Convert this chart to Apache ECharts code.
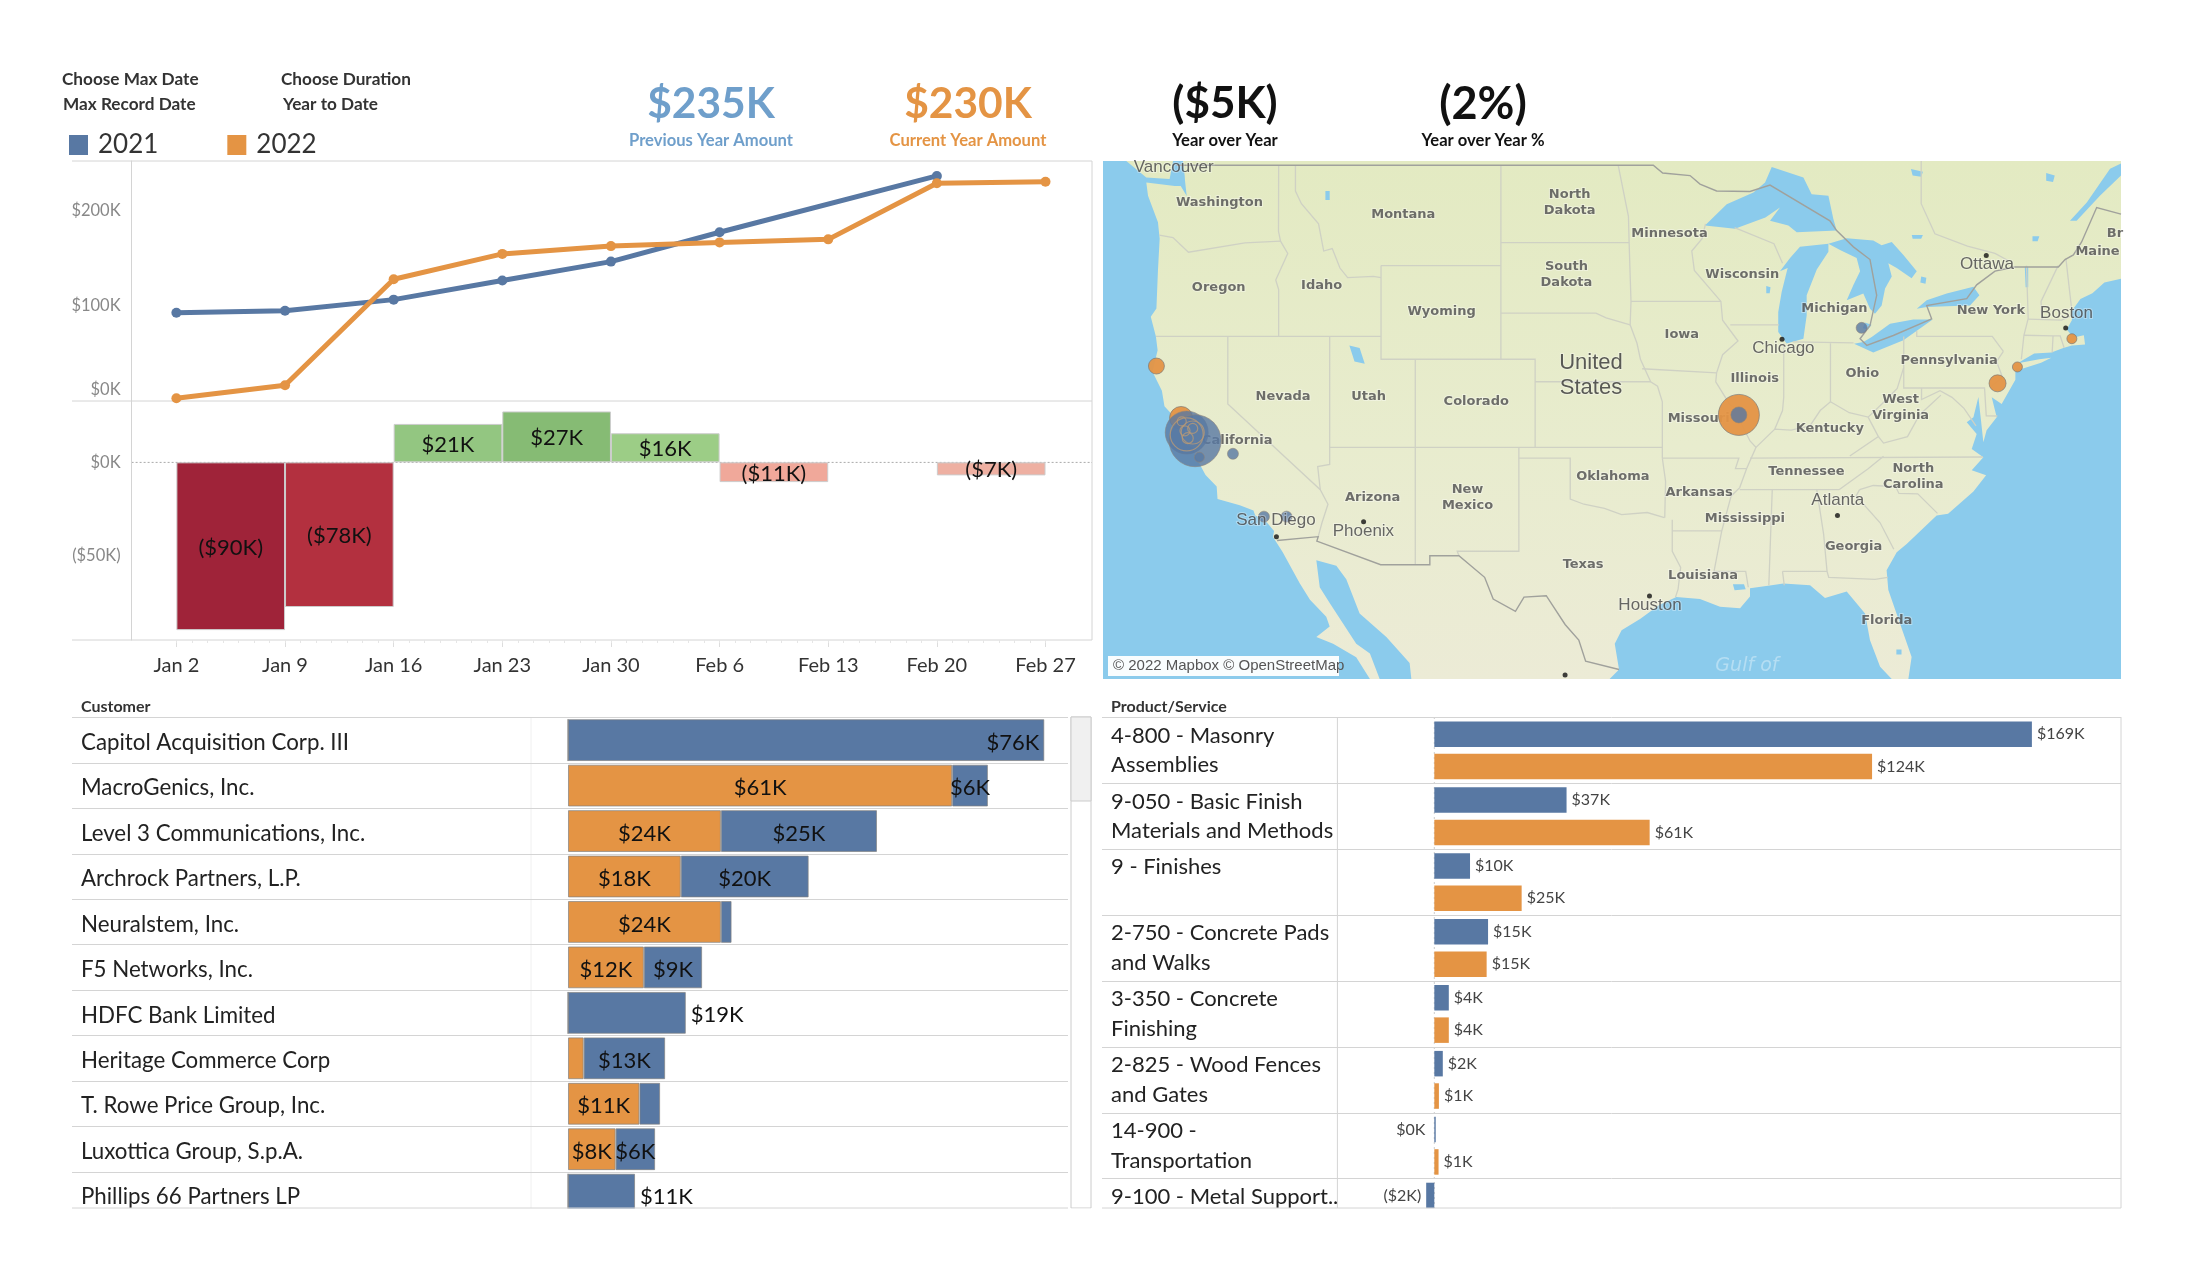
<!DOCTYPE html>
<html>
<head>
<meta charset="utf-8">
<style>html,body{margin:0;padding:0;background:#fff}#c{width:2200px;height:1286px}</style>
<script src="https://cdn.jsdelivr.net/npm/echarts@6/dist/echarts.min.js"></script>
</head>
<body>
<div id="c"></div>
<script>
// weekly running totals ($K)
const weeks = ['Jan 2','Jan 9','Jan 16','Jan 23','Jan 30','Feb 6','Feb 13','Feb 20','Feb 27'];
const running2021 = [92.9,95,106.6,126.8,146.6,177.5,null,236.7,null];
const running2022 = [2.8,16.5,128,154.7,162.9,166.8,170,229,230.6];

// year over year difference per week span ($K)
const diffSpans = ['Jan 2','Jan 9','Jan 16','Jan 23','Jan 30','Feb 6','Feb 13','Feb 20'];
const diffValues = [-90,-77.6,20.6,27.3,15.6,-10.6,null,-7];

// customers ($K)
const customers = ['Capitol Acquisition Corp. III','MacroGenics, Inc.','Level 3 Communications, Inc.','Archrock Partners, L.P.','Neuralstem, Inc.','F5 Networks, Inc.','HDFC Bank Limited','Heritage Commerce Corp','T. Rowe Price Group, Inc.','Luxottica Group, S.p.A.','Phillips 66 Partners LP'];
const customer2022 = [0,61.3,24.4,18,24.4,12.1,0,2.5,11.4,7.6,0];
const customer2021 = [76,5.7,24.9,20.4,1.7,9.3,18.8,13,3.3,6.3,10.7];

// products ($K)
const products = ['4-800 - Masonry\nAssemblies','9-050 - Basic Finish\nMaterials and Methods','9 - Finishes\n ','2-750 - Concrete Pads\nand Walks','3-350 - Concrete\nFinishing','2-825 - Wood Fences\nand Gates','14-900 -\nTransportation','9-100 - Metal Support..\n '];
const product2021 = [169,37.4,10.1,15.2,4.1,2.4,0.4,-2.3];
const product2022 = [123.8,60.9,24.7,14.8,4.1,1.3,1.2,null];

// map bubbles [lon, lat, diameter]
const bubbles2022 = [[-124.17,40.7,16],[-122.73,38.36,23],[-90.15,38.5,41],[-75.04,39.93,17],[-73.88,40.66,10],[-70.7,41.9,10]];
const bubbles2021 = [[-122.4,37.69,43],[-121.91,37.31,52],[-119.7,36.7,11],[-121.66,36.54,10],[-90.15,38.5,16],[-82.98,42.37,11],[-117.89,33.7,11],[-116.57,33.7,11]];
const bubbles2022Cluster = [[-122.4,37.6,33],[-122.05,37.69,23],[-122.69,38.2,9],[-122.5,37.77,10],[-122.05,37.88,10],[-122.34,37.43,11]];

const cityDots = [[-87.63,41.88],[-84.39,33.75],[-112.07,33.45],[-117.16,32.72],[-95.37,29.76],[-71.06,42.36],[-75.7,45.42],[-100.3,25.67]];
const stateLabels = [['Washington',-120.49,47.54],['Montana',-109.75,47.06],['North\nDakota',-100.03,47.54],['Minnesota',-94.2,46.32],['Wisconsin',-89.95,44.61],['Oregon',-120.53,44.08],['Idaho',-114.52,44.17],['South\nDakota',-100.22,44.61],['Wyoming',-107.51,43.07],['Michigan',-84.57,43.18],['New York',-75.43,43.09],['Maine',-69.2,45.59],['Iowa',-93.48,42.06],['Illinois',-89.22,40.12],['Pennsylvania',-77.87,40.94],['Ohio',-82.94,40.36],['Nevada',-116.77,39.35],['Utah',-111.77,39.35],['Colorado',-105.49,39.09],['West\nVirginia',-80.7,38.82],['Missouri',-92.5,38.33],['Kentucky',-84.84,37.88],['California',-119.45,37.32],['Tennessee',-86.2,35.84],['North\nCarolina',-79.96,35.62],['Oklahoma',-97.51,35.6],['Arkansas',-92.47,34.87],['Arizona',-111.54,34.61],['New\nMexico',-106,34.61],['Mississippi',-89.8,33.6],['Georgia',-83.45,32.24],['Texas',-99.25,31.33],['Louisiana',-92.24,30.8],['Florida',-81.51,28.5],['Br',-68.18,46.32]];
const cityLabels = [['Vancouver',-123.16,48.9],['Ottawa',-75.66,45.07],['Boston',-71.01,43.01],['Chicago',-87.55,41.46],['Atlanta',-84.37,34.51],['San Diego',-117.19,33.5],['Phoenix',-112.08,33],['Houston',-95.34,29.28]];

// map geometry (lon, lat)
const mapBox = [[-127.29,49.16],[-67.83,25.46]];
const mainland = [[-122.62,49.16],[-67.83,49.16],[-67.83,44.45],[-68.8,44.3],[-69.5,43.85],[-70.2,43.6],[-70.7,43.1],[-70.7,42.7],[-71,42.3],[-70.6,41.95],[-70,42.05],[-69.93,41.65],[-70.7,41.6],[-71.2,41.5],[-71.9,41.3],[-72.9,41.25],[-73.7,40.9],[-74,40.6],[-74,40.09],[-74.8,39],[-75.38,39.3],[-75.09,38.39],[-75.68,37.8],[-75.87,37.24],[-76,38.2],[-76.16,39.32],[-76.45,38.39],[-76.84,38.16],[-76.26,37.62],[-76.55,36.93],[-75.87,36.54],[-76.55,35.93],[-75.71,35.69],[-76.45,34.91],[-77.93,33.84],[-78.6,33.76],[-80.35,32.36],[-80.93,31.95],[-81.52,31.05],[-81.42,30.06],[-80.74,28.35],[-80.06,26.62],[-80.25,25.46],[-81.22,25.46],[-81.9,26.1],[-82.49,27.49],[-82.78,28.87],[-83.85,29.99],[-85.12,29.65],[-85.99,30.3],[-87.55,30.39],[-88.14,30.31],[-89.5,30.15],[-89.5,29.73],[-90.08,29.13],[-91.25,29.21],[-92.42,29.6],[-93.8,29.7],[-94.8,29.3],[-95.9,28.6],[-97,28],[-97.4,27.3],[-97.15,25.96],[-97.7,25.46],[-109.28,25.46],[-109.38,26.3],[-110.74,27.66],[-112.3,28.87],[-113.08,30.6],[-113.66,31.28],[-114.83,31.55],[-114.63,30.2],[-114.05,29.4],[-113.27,28.35],[-112.5,27.3],[-111.7,26.8],[-111.13,25.46],[-111.7,25.46],[-112.5,26.6],[-113.85,27.3],[-114.83,27.66],[-114.05,28.2],[-114.25,28.7],[-115.2,29.56],[-115.8,30.4],[-116.8,31.96],[-117.36,32.7],[-117.3,33],[-117.8,33.5],[-118.4,33.75],[-118.5,34],[-119.3,34.25],[-120.6,34.55],[-120.65,35.15],[-121.3,35.7],[-121.9,36.6],[-122,36.95],[-122.5,37.2],[-122.5,37.8],[-123,38.3],[-123.7,38.9],[-123.85,39.6],[-124.4,40.45],[-124.1,41.4],[-124.2,42],[-124.5,42.85],[-124.17,43.2],[-124.08,44.8],[-123.98,46.1],[-124.08,46.76],[-124.66,47.81],[-124.76,48.33],[-123.1,48.2],[-122.75,48.2],[-122.4,47.8],[-122.5,48.4],[-122.52,48.6],[-122.62,49.16]];
const islands = [
  [[-125.93,49.16],[-124.76,48.53],[-123.4,48.47],[-123.2,49.16],[-125.93,49.16]],
  [[-74,40.6],[-73.6,40.58],[-72.5,40.85],[-71.9,41.07],[-72.6,41],[-73.7,40.85],[-74,40.6]]
];
const lakes = [
  [[-92.13,46.63],[-90.86,47.48],[-89.3,47.94],[-88.62,48.33],[-88.23,48.93],[-86.38,48.53],[-85.9,47.87],[-84.92,47.81],[-84.63,46.89],[-84.44,46.43],[-86.77,46.36],[-87.26,46.63],[-88.33,46.82],[-87.75,47.35],[-88.6,46.95],[-90.38,46.5],[-92.13,46.63]],
  [[-87.36,41.69],[-86.38,41.9],[-86.19,42.9],[-86.19,43.76],[-85.6,44.84],[-84.92,45.57],[-84.92,45.9],[-86.58,45.77],[-87.16,45.31],[-87.75,44.77],[-87.3,44.9],[-87.65,43.9],[-87.85,43.05],[-87.85,42.19],[-87.36,41.69]],
  [[-84.92,45.9],[-83.85,46.12],[-82.3,46.03],[-81.81,45.84],[-81.22,45.97],[-80.54,45.44],[-79.76,44.77],[-80.06,44.48],[-80.93,44.9],[-81.42,45.1],[-81.22,44.55],[-81.61,44.05],[-81.81,43.33],[-82.2,42.98],[-82.49,43.19],[-82.88,43.84],[-83.85,43.55],[-83.46,44.19],[-83.07,44.77],[-83.27,45.31],[-84.24,45.64],[-84.92,45.9]],
  [[-83.42,41.68],[-82.3,41.3],[-80.54,41.83],[-78.83,42.73],[-79.96,42.73],[-81.32,42.55],[-82.39,41.97],[-82.88,41.76],[-83.42,41.68]],
  [[-79.76,43.19],[-79.18,43.55],[-78.01,43.84],[-76.45,44.12],[-76.1,43.76],[-76.65,43.33],[-78.01,43.3],[-79.18,43.26],[-79.76,43.19]],
  [[-70.81,46.82],[-69.83,47.55],[-68.47,48.86],[-67.83,49.06],[-67.83,48.6],[-69.06,47.81],[-70.42,46.82],[-70.81,46.82]],
  [[-112.9,41.6],[-112.3,41.5],[-112,40.8],[-112.6,40.9],[-112.9,41.6]],
  [[-80.95,27],[-80.65,27],[-80.65,26.75],[-80.95,26.75],[-80.95,27]],
  [[-90.5,30.35],[-89.85,30.35],[-89.75,30.1],[-90.4,30.05],[-90.5,30.35]],
  [[-82.8,42.6],[-82.4,42.5],[-82.6,42.3],[-82.9,42.35],[-82.8,42.6]],
  [[-80.1,48.85],[-79.4,48.75],[-79.5,48.55],[-80,48.6],[-80.1,48.85]],
  [[-80.05,46.25],[-79.4,46.25],[-79.5,46.1],[-80,46.1],[-80.05,46.25]],
  [[-72.2,48.7],[-71.7,48.6],[-71.8,48.35],[-72.2,48.4],[-72.2,48.7]],
  [[-79.5,44.55],[-79.2,44.5],[-79.25,44.25],[-79.55,44.3],[-79.5,44.55]],
  [[-88.55,44.15],[-88.3,44.1],[-88.35,43.85],[-88.55,43.85],[-88.55,44.15]],
  [[-73,46.2],[-72.6,46.2],[-72.7,46],[-73,46],[-73,46.2]],
  [[-73.45,44.95],[-73.25,44.95],[-73.25,44.1],[-73.4,44.1],[-73.45,44.95]],
  [[-114.3,48],[-114.05,48],[-114.05,47.65],[-114.3,47.65],[-114.3,48]]
];
const nationalBorders = [
  [[-123,49],[-95.15,49],[-94.6,48.7],[-93,48.6],[-92.42,48.27],[-91.45,48],[-89.5,47.98],[-88.33,48.23],[-84.83,46.82],[-84.44,46.43],[-83.46,45.77],[-82.49,45.25],[-82.1,43.76],[-82.49,42.47],[-83.07,41.9],[-82.68,41.61],[-81.13,42.04],[-78.89,42.76],[-79.18,43.33],[-76.84,43.62],[-76.26,44.2],[-75.19,44.77],[-74.02,44.94],[-71.49,44.94],[-71.1,45.25],[-70.61,45.44],[-70.13,45.97],[-69.25,47.35],[-67.83,47.09]],
  [[-117.12,32.53],[-114.72,32.72],[-114.8,32.5],[-111.07,31.33],[-108.2,31.33],[-108.2,31.78],[-106.5,31.78],[-105,30.7],[-104.5,29.6],[-103.2,28.98],[-102.7,29.7],[-101.4,29.77],[-100.3,28.3],[-99.5,27.5],[-99.1,26.4],[-97.15,25.96]]
];
const stateBorders = [
  [[-124,46.25],[-123.2,46.15],[-122.3,45.55],[-119,45.93],[-116.92,46]],[[-117.03,49],[-117.04,46.4],[-116.92,46],[-116.5,45.5],[-117.2,44.4],[-117.03,44],[-117.03,42]],[[-124.2,42],[-111.05,42]],[[-120,42],[-120,39],[-114.6,35],[-114.15,34.3],[-114.5,33.4],[-114.72,32.72]],[[-114.05,42],[-114.05,36.2],[-114.75,36.1],[-114.6,35]],[[-116.05,49],[-116.05,48],[-115.7,47.5],[-114.7,46.7],[-114.4,45.6],[-113.9,45.7],[-113.45,44.9],[-113,44.5],[-111.5,44.55],[-111.05,44.5]],[[-111.05,45],[-104.05,45]],[[-111.05,45],[-111.05,41],[-102.05,41],[-102.05,37]],[[-109.05,41],[-109.05,31.33]],[[-114.05,37],[-94.62,37]],[[-103,37],[-103,32],[-106.6,32],[-106.5,31.78]],[[-103,36.5],[-100,36.5],[-100,34.55],[-99.2,34.3],[-98,34.1],[-97,33.8],[-95.5,33.9],[-94.5,33.65]],[[-94.62,36.5],[-94.43,35.4],[-94.48,33.65]],[[-94.04,33.55],[-94.04,32],[-93.55,31.2],[-93.7,30.1],[-93.85,29.7]],[[-94.04,33],[-91.15,33]],[[-104.05,49],[-104.05,41]],[[-104.05,45.94],[-96.56,45.94]],[[-104.05,43],[-98.5,43],[-97.9,42.8],[-96.5,42.5]],[[-102.05,40],[-95.3,40]],[[-97.2,49],[-96.6,47],[-96.56,45.94],[-96.45,43.5],[-96.5,42.5],[-96.1,41.7],[-95.9,41],[-95.3,40],[-94.9,39.8],[-94.62,39.1],[-94.62,36.5]],[[-96.45,43.5],[-91.2,43.5]],[[-95.8,40.58],[-91.45,40.4]],[[-92.1,46.7],[-92.3,46.1],[-92.9,45.6],[-92.75,44.8],[-91.2,43.5],[-91.1,42.7],[-90.2,41.8],[-91.1,41.2],[-91.45,40.4],[-91.5,40],[-90.7,39],[-90.2,38.7],[-90.2,38.4],[-89.5,37.3],[-89.15,37],[-89.7,36],[-90.1,35.1],[-90.6,34.7],[-91.15,33],[-91.6,31],[-89.75,31],[-89.6,30.2]],[[-90.65,42.5],[-87.8,42.5]],[[-90.4,46.55],[-88.1,45.9],[-87.6,45.1]],[[-87.53,41.7],[-87.53,39.3],[-87.6,38.7],[-88.05,37.85]],[[-89.15,37],[-88.05,37.85],[-87.1,37.8],[-86,38],[-85.4,38.7],[-84.8,39.1],[-83.7,38.6],[-82.6,38.4],[-81.8,39],[-80.9,39.7],[-80.52,40.64]],[[-84.8,39.1],[-84.8,41.7]],[[-87,41.76],[-83.45,41.72]],[[-80.52,40.64],[-80.52,42]],[[-79.76,42.25],[-79.76,42],[-75.35,42],[-74.7,41.35]],[[-74.7,41.35],[-75.1,40.9],[-74.75,40.2],[-75.4,39.8]],[[-80.52,40.64],[-80.52,39.72],[-75.8,39.72],[-75.7,38.46],[-75.05,38.45]],[[-79.48,39.72],[-79.48,39.2],[-78.4,39.6],[-77.7,39.3],[-77,38.8],[-76.3,38]],[[-78.35,39.4],[-79.6,38.5],[-80.3,37.5],[-81.7,37.2],[-82,37.5]],[[-82.6,38.4],[-82,37.5],[-83.67,36.6]],[[-89.5,36.5],[-75.9,36.55]],[[-90.1,35],[-84.3,35]],[[-81.7,36.59],[-82.6,36],[-84.3,35]],[[-83.1,35],[-82.3,35.2],[-81,35.15],[-80.8,34.82],[-79.7,34.8],[-78.55,33.86]],[[-83.1,35],[-83.3,34.7],[-81.9,33.4],[-81.1,32.1]],[[-85.6,35],[-85.2,32.85],[-85,31]],[[-87.6,31],[-85,31],[-84.9,30.7],[-82.2,30.6],[-81.45,30.7]],[[-87.6,31],[-87.5,30.3]],[[-88.2,35],[-88.4,30.3]],[[-94.6,36.5],[-90.15,36.5],[-90.35,36],[-89.7,36]],[[-73.35,45],[-73.25,42.75]],[[-73.26,42.75],[-73.5,42.05],[-73.65,41]],[[-73.5,42.05],[-71.8,42.02],[-71.38,42.02],[-71.15,41.5]],[[-73.26,42.75],[-71.3,42.7],[-70.8,42.87]],[[-71.8,42.02],[-71.85,41.3]],[[-71.5,45],[-72.5,43.5],[-72.45,42.73]],[[-71.05,45.3],[-70.7,43.1]],[[-79.5,49.16],[-79.5,47.5],[-78.7,46.3],[-76.8,45.8],[-75.19,45.5],[-74.4,45.2]]
];

const kpiValues = ['$235K','$230K','($5K)','(2%)'];
const kpiLabels = ['Previous Year Amount','Current Year Amount','Year over Year','Year over Year %'];
const headerTexts = ['Choose Max Date','Max Record Date','Choose Duration','Year to Date'];

// ---- styling and layout ----
const BLUE = '#5878a3', ORANGE = '#e49444';
const FONT = 'Lato';
const diffColors = ['#9f2339','#b3303f','#93c681','#86bb74','#9ccd86','#f0a89a','#eee','#eeb0a2'];
const kpiStyle = [{c:'#6f9fcb',x:711,s:42.5},{c:'#e49444',x:968,s:42.5},{c:'#111',x:1225,s:44},{c:'#111',x:1483,s:45}];
const headerPos = [[62,79],[63,104],[281,79],[283,104]];

const mercDeg = lat => Math.log(Math.tan(Math.PI/4 + lat*Math.PI/360))*180/Math.PI;
const invMerc = m => (2*Math.atan(Math.exp(m*Math.PI/180)) - Math.PI/2)*180/Math.PI;
const fmtK = v => v < 0 ? '($' + Math.round(-v) + 'K)' : '$' + Math.round(v) + 'K';
const box = mapBox;
echarts.registerMap('usa', {type:'FeatureCollection', features:[
  {type:'Feature', properties:{name:'water'}, geometry:{type:'Polygon', coordinates:[[[box[0][0],box[0][1]],[box[1][0],box[0][1]],[box[1][0],box[1][1]],[box[0][0],box[1][1]],[box[0][0],box[0][1]]]]}},
  {type:'Feature', properties:{name:'land'}, geometry:{type:'MultiPolygon', coordinates:[[mainland]].concat(islands.map(p=>[p]))}},
  {type:'Feature', properties:{name:'lakes'}, geometry:{type:'MultiPolygon', coordinates:lakes.map(p=>[p])}}
]});

const line = (x1,y1,x2,y2,color,extra) => ({type:'line', shape:{x1,y1,x2,y2}, silent:true, style:Object.assign({stroke:color||'#d4d4d4', lineWidth:1}, extra||{})});
const text = (t,x,y,size,color,weight,align,family) => ({type:'text', x, y, silent:true, style:{text:t, fontSize:size, fill:color, fontWeight:weight||'normal', fontFamily:family||FONT, textAlign:align||'left', textVerticalAlign:'middle'}});

const graphicEls = [];
headerTexts.forEach((t,i) => graphicEls.push(text(t,headerPos[i][0],headerPos[i][1],17.2,'#333','bold')));
kpiValues.forEach((v,i) => {
  const k = kpiStyle[i];
  graphicEls.push(text(v,k.x,104,k.s,k.c,'bold','center'));
  graphicEls.push(text(kpiLabels[i],k.x,141,16.6,k.c,'bold','center'));
});
[161,401,640].forEach(y => graphicEls.push(line(72,y,1092,y)));
graphicEls.push(line(1092,161,1092,640));
graphicEls.push(line(131.6,462.4,1092,462.4,'#aaa',{lineDash:[2,2]}));
graphicEls.push(line(531,717,531,1208,'#f0f0f0'));
graphicEls.push({type:'rect', shape:{x:1071,y:717,width:20,height:491}, silent:true, style:{fill:'#fff',stroke:'#ccc'}, z:5});
graphicEls.push({type:'rect', shape:{x:1071,y:717,width:20,height:84}, silent:true, style:{fill:'#f0f0f0',stroke:'#ccc'}, z:6});
graphicEls.push(line(1337.4,717,1337.4,1208,'#d4d4d4'));
graphicEls.push(line(2121,717,2121,1208,'#d4d4d4'));
graphicEls.push(line(1434.3,717,1434.3,1208,'#ccc',{lineDash:[2,3]}));
graphicEls.push({type:'rect', shape:{x:60,y:1208.5,width:2080,height:60}, silent:true, style:{fill:'#fff'}, z:100, zlevel:1});
graphicEls.push(Object.assign(line(72,1208,1068,1208),{z:101, zlevel:1}));
graphicEls.push(Object.assign(line(1102,1208,2121,1208),{z:101, zlevel:1}));
graphicEls.push(text('Customer',81,707,16,'#333','bold'));
graphicEls.push(text('Product/Service',1111,707,16,'#333','bold'));
graphicEls.push({type:'rect', shape:{x:1108,y:656,width:231,height:20}, silent:true, style:{fill:'rgba(255,255,255,0.95)'}, z:50, zlevel:1});
graphicEls.push(Object.assign(text('© 2022 Mapbox © OpenStreetMap',1113,666,15,'#555',null,null,'Liberation Sans'),{z:51, zlevel:1}));

const customerLabel = (v, outside, inner) => ({
  value:v,
  label:{show:v >= 5, formatter:fmtK(v), position: outside ? 'right' : (inner || 'inside'), fontSize:22, color:'#111', fontFamily:FONT, distance:5, offset:[0,2.5]}
});
const productLabel = (v, forceLeft) => v == null ? null : ({
  value:v,
  label:{show:true, formatter:fmtK(v), position: (v < 0 || forceLeft) ? 'left' : 'right', fontSize:16, color:'#444', fontFamily:FONT, distance: forceLeft ? 9 : 5}
});

const barBorder = {borderColor:'rgba(130,130,130,.7)', borderWidth:1};

const option = {
  animation:false,
  backgroundColor:'#fff',
  textStyle:{fontFamily:FONT},
  legend:{left:69, top:132, padding:0, icon:'rect', itemWidth:19, itemHeight:20, itemGap:69, selectedMode:false, data:['2021','2022'],
    textStyle:{fontSize:26, color:'#333', fontFamily:FONT, padding:[0,0,0,5]}},
  grid:[
    {left:176.4, width:869.1, top:161, height:240},
    {left:176.4, width:869.1, top:401, height:239},
    {left:72, width:996, top:717.4, height:500},
    {left:1102, width:1019, top:717.4, height:527.2}
  ],
  xAxis:[
    {gridIndex:0, type:'category', boundaryGap:false, data:weeks, axisLine:{show:false}, axisTick:{show:false}, axisLabel:{show:false}},
    {gridIndex:1, type:'category', data:diffSpans, axisLine:{show:false}, axisTick:{show:false}, axisLabel:{show:false}},
    {gridIndex:1, type:'category', position:'bottom', boundaryGap:false, data:weeks, axisLine:{show:false}, axisTick:{show:true, length:7, lineStyle:{color:'#ddd'}}, axisLabel:{show:true, interval:0, margin:16, fontSize:20, color:'#333', fontFamily:FONT}},
    {gridIndex:2, type:'value', min:-79.14, max:79.78, show:false},
    {gridIndex:3, type:'value', min:-93.98, max:194.2, show:false},
    {gridIndex:1, type:'category', position:'bottom', boundaryGap:false, data:Array(57).fill(''), axisLine:{show:false}, axisTick:{show:true, interval:0, length:3, lineStyle:{color:'#e6e6e6'}}, axisLabel:{show:false}}
  ],
  yAxis:[
    {gridIndex:0, type:'value', min:0, max:252.4, offset:44.8, axisLine:{show:true, lineStyle:{color:'#d4d4d4'}}, axisTick:{show:false}, splitLine:{show:false},
      axisLabel:{customValues:[0,100,200], margin:11, fontSize:16.5, color:'#888', fontFamily:FONT,
        formatter:v => v === 0 ? '{z|$0K}' : '$' + v + 'K', rich:{z:{fontSize:16.5, color:'#888', fontFamily:FONT, padding:[0,0,22,0]}}}},
    {gridIndex:1, type:'value', min:-95.3, max:32.9, offset:44.8, axisLine:{show:true, lineStyle:{color:'#d4d4d4'}}, axisTick:{show:false}, splitLine:{show:false},
      axisLabel:{customValues:[-50,0], margin:11, fontSize:16.5, color:'#888', fontFamily:FONT, formatter:v => fmtK(v)}},
    {gridIndex:2, type:'category', inverse:true, data:customers, axisLine:{show:false}, axisTick:{show:false}, splitLine:{show:true, lineStyle:{color:'#d4d4d4'}},
      axisLabel:{inside:true, margin:9, interval:0, color:'#222', fontFamily:FONT, formatter:v => '{a|' + v + '}', rich:{a:{fontSize:22.3, color:'#222', fontFamily:FONT, padding:[5,0,0,0]}}}},
    {gridIndex:3, type:'category', inverse:true, data:products, axisLine:{show:false}, axisTick:{show:false}, splitLine:{show:true, lineStyle:{color:'#d4d4d4'}},
      axisLabel:{inside:true, margin:9, interval:0, fontSize:22, lineHeight:29.5, color:'#222', fontFamily:FONT}}
  ],
  geo:{map:'usa', silent:true, left:1103, top:161, width:1018, height:518, roam:false, aspectScale:1,
    boundingCoords:mapBox,
    projection:{project:p => [p[0], -mercDeg(p[1])], unproject:p => [p[0], invMerc(-p[1])]},
    label:{show:false},
    itemStyle:{borderWidth:0, areaColor:'#e8ecca'},
    regions:[
      {name:'water', itemStyle:{areaColor:'#8bcbec', borderWidth:0}},
      {name:'land', itemStyle:{borderWidth:0, areaColor:{type:'linear',x:0,y:0,x2:0,y2:1,colorStops:[{offset:0,color:'#e3eac2'},{offset:.55,color:'#e8ecce'},{offset:1,color:'#ecebd6'}]}}},
      {name:'lakes', itemStyle:{areaColor:'#8bcbec', borderWidth:0}}
    ]},
  graphic:{elements:graphicEls},
  series:[
    {name:'2021', type:'line', xAxisIndex:0, yAxisIndex:0, data:running2021, connectNulls:true, symbol:'circle', symbolSize:10, itemStyle:{color:BLUE}, lineStyle:{color:BLUE, width:5}},
    {name:'2022', type:'line', xAxisIndex:0, yAxisIndex:0, data:running2022, symbol:'circle', symbolSize:10, itemStyle:{color:ORANGE}, lineStyle:{color:ORANGE, width:5}},
    {name:'Difference', type:'bar', xAxisIndex:1, yAxisIndex:1, barWidth:'100%',
      data:diffValues.map((v,i) => v == null ? null : ({value:v, itemStyle:{color:diffColors[i], borderColor:'#ccc', borderWidth:1}})),
      label:{show:true, position:'inside', offset:[0,1.5], fontSize:22, color:'#111', fontFamily:FONT, formatter:p => fmtK(p.value)}},
    {name:'2022', type:'bar', xAxisIndex:3, yAxisIndex:2, stack:'cust', barCategoryGap:'8%', itemStyle:Object.assign({color:ORANGE}, barBorder),
      data:customer2022.map(v => customerLabel(v))},
    {name:'2021', type:'bar', xAxisIndex:3, yAxisIndex:2, stack:'cust', barCategoryGap:'8%', itemStyle:Object.assign({color:BLUE}, barBorder),
      data:customer2021.map((v,i) => customerLabel(v, customer2022[i] === 0 && v < 30, customer2022[i] === 0 && v >= 30 ? 'insideRight' : null))},
    {name:'2021', type:'bar', xAxisIndex:4, yAxisIndex:3, barWidth:25.5, barGap:'27%', itemStyle:{color:BLUE},
      data:product2021.map((v,i) => productLabel(v, i === 6))},
    {name:'2022', type:'bar', xAxisIndex:4, yAxisIndex:3, barWidth:25.5, barGap:'27%', itemStyle:{color:ORANGE},
      data:product2022.map(v => productLabel(v))},
    {type:'lines', coordinateSystem:'geo', polyline:true, silent:true, z:2, lineStyle:{color:'#cfd1c4', width:1.3, opacity:1}, data:stateBorders.map(c => ({coords:c}))},
    {type:'lines', coordinateSystem:'geo', polyline:true, silent:true, z:2, lineStyle:{color:'#a0a19c', width:1.4, opacity:1}, data:nationalBorders.map(c => ({coords:c}))},
    {type:'scatter', coordinateSystem:'geo', silent:true, z:3, symbolSize:0, data:stateLabels.map(s => ({name:s[0], value:[s[1],s[2]]})),
      label:{show:true, position:'inside', formatter:'{b}', fontSize:13, fontWeight:'bold', lineHeight:16, color:'#4c4c4c', fontFamily:'DejaVu Sans', align:'center', verticalAlign:'middle', textBorderColor:'rgba(255,255,255,.45)', textBorderWidth:2}},
    {name:'2022 locations', type:'scatter', coordinateSystem:'geo', silent:true, z:4, data:bubbles2022, symbolSize:v => v[2], itemStyle:{color:ORANGE, opacity:.95, borderColor:'rgba(120,120,120,.7)', borderWidth:1}},
    {name:'2021 locations', type:'scatter', coordinateSystem:'geo', silent:true, z:5, data:bubbles2021, symbolSize:v => v[2], itemStyle:{color:BLUE, opacity:.8, borderColor:'rgba(140,130,120,.7)', borderWidth:1}},
    {name:'2022 cluster', type:'scatter', coordinateSystem:'geo', silent:true, z:6, data:bubbles2022Cluster, symbolSize:v => v[2], itemStyle:{color:'rgba(0,0,0,0)', borderColor:'rgba(190,155,115,.9)', borderWidth:1.2}},
    {type:'scatter', coordinateSystem:'geo', silent:true, z:7, data:cityDots, symbolSize:5, itemStyle:{color:'#111'}},
    {type:'scatter', coordinateSystem:'geo', silent:true, z:7, symbolSize:0, data:cityLabels.map(s => ({name:s[0], value:[s[1],s[2]]})),
      label:{show:true, position:'inside', formatter:'{b}', fontSize:17, color:'#444', fontFamily:'Liberation Sans', align:'center', verticalAlign:'middle', textBorderColor:'rgba(255,255,255,.4)', textBorderWidth:2}},
    {type:'scatter', coordinateSystem:'geo', silent:true, z:3, symbolSize:0, data:[{name:'United\nStates', value:[-98.79,40.29]}],
      label:{show:true, position:'inside', formatter:'{b}', fontSize:22, lineHeight:25, color:'#333', fontFamily:'Liberation Sans', align:'center', verticalAlign:'middle', textBorderColor:'rgba(255,255,255,.4)', textBorderWidth:2}},
    {type:'scatter', coordinateSystem:'geo', silent:true, z:3, symbolSize:0, data:[{name:'Gulf of', value:[-89.68,26.16]}],
      label:{show:true, position:'inside', formatter:'{b}', fontSize:19, fontStyle:'italic', color:'rgba(255,255,255,.45)', fontFamily:'DejaVu Sans', align:'center', verticalAlign:'middle'}}
  ]
};
const chart = echarts.init(document.getElementById('c'), null, {renderer:'canvas'});
chart.setOption(option);
</script>
</body>
</html>
